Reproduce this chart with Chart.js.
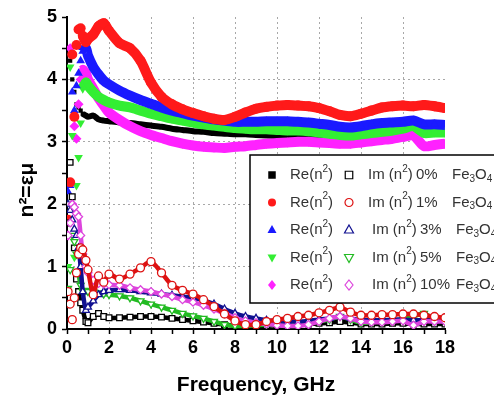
<!DOCTYPE html>
<html>
<head>
<meta charset="utf-8">
<script src="https://cdn.jsdelivr.net/npm/chart.js@4.4.1/dist/chart.umd.min.js"></script>
<style>
  html, body { margin: 0; padding: 0; background: #fff; }
</style>
</head>
<body>
<canvas id="myChart" width="494" height="399"></canvas>
<script>
// frequency, GHz (denser at the low end where the curves jump)
const freq = [0.05, 0.15, 0.25, 0.35, 0.45, 0.55, 0.65, 0.75, 0.9, 1.0, 1.25, 1.5, 1.75, 2.0,
  2.5, 3, 3.5, 4, 4.5, 5, 5.5, 6, 6.5, 7, 7.5, 8, 8.5, 9, 9.5, 10,
  10.5, 11, 11.5, 12, 12.5, 13, 13.5, 14, 14.5, 15, 15.5, 16, 16.5, 17, 17.5, 18];

const percents = ["0%", "1%", "3%", "5%", "10%"];

// Re(n^2)
const re0 = [1.7, 4.3, 4.0, 3.8, 3.6, 3.55, 3.5, 3.45, 3.42, 3.4, 3.42, 3.36, 3.34, 3.33,
  3.31, 3.30, 3.28, 3.26, 3.24, 3.21, 3.19, 3.17, 3.16, 3.14, 3.13, 3.12, 3.12, 3.11, 3.10, 3.09,
  3.08, 3.08, 3.07, 3.07, 3.06, 3.06, 3.06, 3.07, 3.09, 3.11, 3.12, 3.14, 3.18, 3.12, 3.14, 3.15];
const re1 = [1.75, 2.35, 4.4, 3.4, 4.55, 4.8, 4.82, 4.7, 4.6, 4.65, 4.72, 4.85, 4.9, 4.78,
  4.58, 4.5, 4.3, 3.95, 3.72, 3.6, 3.52, 3.46, 3.41, 3.37, 3.35, 3.4, 3.47, 3.53, 3.56, 3.58,
  3.59, 3.58, 3.57, 3.54, 3.49, 3.43, 3.41, 3.45, 3.5, 3.55, 3.57, 3.58, 3.57, 3.59, 3.57, 3.54];
const re3 = [2.2, 2.3, 3.8, 3.5, 3.9, 4.1, 4.3, 4.45, 4.5, 4.38, 4.2, 4.08, 3.98, 3.92,
  3.82, 3.74, 3.67, 3.61, 3.55, 3.5, 3.46, 3.42, 3.39, 3.36, 3.34, 3.32, 3.32, 3.32, 3.33, 3.33,
  3.33, 3.32, 3.31, 3.29, 3.27, 3.24, 3.23, 3.25, 3.28, 3.3, 3.31, 3.32, 3.34, 3.28, 3.28, 3.27];
const re5 = [1.0, 4.2, 3.1, 1.15, 2.3, 2.75, 3.3, 3.85, 3.95, 3.9, 3.8, 3.72, 3.67, 3.63,
  3.58, 3.55, 3.5, 3.45, 3.41, 3.37, 3.34, 3.31, 3.28, 3.26, 3.24, 3.22, 3.21, 3.2, 3.2, 3.19,
  3.18, 3.18, 3.17, 3.15, 3.13, 3.11, 3.1, 3.12, 3.14, 3.16, 3.18, 3.21, 3.25, 3.14, 3.15, 3.15];
const re10 = [1.5, 4.5, 2.0, 3.25, 3.05, 3.6, 4.0, 4.15, 4.1, 4.0, 3.85, 3.7, 3.58, 3.47,
  3.35, 3.25, 3.17, 3.11, 3.06, 3.01, 2.97, 2.94, 2.92, 2.91, 2.9, 2.92, 2.93, 2.95, 2.97, 2.98,
  2.99, 3.0, 3.0, 2.99, 2.98, 2.97, 2.97, 2.99, 3.01, 3.03, 3.05, 3.08, 3.1, 2.93, 2.95, 2.97];

// Im(n^2)
const im0 = [1.7, 2.67, 2.12, 1.3, 0.8, 0.6, 0.42, 0.3, 0.12, 0.1, 0.2, 0.25, 0.2, 0.18,
  0.18, 0.19, 0.2, 0.2, 0.19, 0.17, 0.15, 0.13, 0.11, 0.09, 0.07, 0.05, 0.05, 0.05, 0.05, 0.06,
  0.06, 0.07, 0.08, 0.09, 0.1, 0.12, 0.1, 0.08, 0.08, 0.08, 0.09, 0.09, 0.08, 0.08, 0.08, 0.08];
const im1 = [0.6, 0.4, 0.15, 0.5, 0.9, 1.2, 1.3, 1.27, 1.1, 0.95, 0.55, 0.85, 0.75, 0.88,
  0.8, 0.88, 0.98, 1.08, 0.9, 0.7, 0.62, 0.56, 0.47, 0.36, 0.24, 0.13, 0.07, 0.07, 0.12, 0.15,
  0.17, 0.2, 0.22, 0.26, 0.3, 0.35, 0.27, 0.22, 0.22, 0.23, 0.23, 0.24, 0.24, 0.22, 0.2, 0.18];
const im3 = [2.0, 1.9, 1.75, 1.6, 1.5, 1.3, 1.0, 0.6, 0.3, 0.35, 0.45, 0.55, 0.6, 0.62,
  0.63, 0.62, 0.6, 0.58, 0.56, 0.54, 0.52, 0.5, 0.46, 0.4, 0.32, 0.25, 0.2, 0.17, 0.14, 0.12,
  0.12, 0.12, 0.13, 0.15, 0.17, 0.2, 0.17, 0.14, 0.14, 0.14, 0.15, 0.15, 0.14, 0.14, 0.14, 0.14];
const im5 = [0.65, 0.95, 1.5, 1.4, 1.2, 0.9, 0.7, 0.6, 0.62, 0.6, 0.6, 0.58, 0.56, 0.55,
  0.53, 0.5, 0.45, 0.4, 0.35, 0.3, 0.25, 0.21, 0.17, 0.12, 0.07, 0.05, 0.05, 0.06, 0.07, 0.08,
  0.09, 0.1, 0.11, 0.12, 0.15, 0.2, 0.15, 0.1, 0.11, 0.12, 0.13, 0.15, 0.2, 0.25, 0.15, 0.12];
const im10 = [1.5, 1.7, 2.0, 1.95, 1.85, 1.8, 1.5, 1.2, 1.0, 0.9, 0.78, 0.73, 0.72, 0.71,
  0.7, 0.66, 0.63, 0.6, 0.56, 0.52, 0.47, 0.43, 0.38, 0.32, 0.25, 0.18, 0.13, 0.1, 0.08, 0.06,
  0.05, 0.05, 0.07, 0.12, 0.17, 0.2, 0.17, 0.12, 0.11, 0.11, 0.12, 0.13, 0.06, 0.12, 0.12, 0.12];

const reSeries = [re0, re1, re3, re5, re10];
const imSeries = [im0, im1, im3, im5, im10];

const reColors = ["#000000", "#ff1a1a", "#1a1aff", "#33ee33", "#ff22ff"];
const imColors = ["#000000", "#dd1111", "#101090", "#22bb22", "#dd44dd"];
const shapes = ["rect", "circle", "triangle", "triangle", "rectRot"];
const rotations = [0, 0, 0, 180, 0];
const reWidths = [6, 10, 10, 10, 10];
// draw order, smaller = on top
const reOrder = [10, 6, 7, 8, 9];
const imOrder = [5, 1, 3, 4, 2];

function toPoints(arr) {
  return freq.map((f, i) => ({ x: f, y: arr[i] }));
}

const datasets = [];
for (let i = 0; i < 5; i++) {
  datasets.push({
    label: "Re " + percents[i],
    data: toPoints(reSeries[i]),
    showLine: true,
    tension: 0.25,
    borderColor: reColors[i],
    borderWidth: reWidths[i],
    pointStyle: shapes[i],
    rotation: rotations[i],
    pointRadius: reWidths[i] / 2,
    pointBackgroundColor: reColors[i],
    pointBorderColor: reColors[i],
    pointBorderWidth: 0,
    order: reOrder[i],
    segment: {
      borderColor: (c) => (c.p0.parsed.x < 0.7 ? "rgba(0,0,0,0)" : undefined),
    },
  });
  datasets.push({
    label: "Im " + percents[i],
    data: toPoints(imSeries[i]),
    showLine: true,
    tension: 0.25,
    borderColor: imColors[i],
    borderWidth: 4.5,
    pointStyle: shapes[i],
    rotation: rotations[i],
    pointRadius: 4,
    pointBackgroundColor: "#ffffff",
    pointBorderColor: imColors[i],
    pointBorderWidth: 1.3,
    order: imOrder[i],
    segment: {
      borderColor: (c) => (c.p0.parsed.x < 0.5 ? "rgba(0,0,0,0)" : undefined),
    },
  });
}

function marker(ctx, shape, rot, x, y, r, fill, stroke) {
  ctx.save();
  ctx.translate(x, y);
  ctx.rotate((rot * Math.PI) / 180);
  ctx.beginPath();
  if (shape === "rect") {
    ctx.rect(-r * 0.75, -r * 0.75, r * 1.5, r * 1.5);
  } else if (shape === "circle") {
    ctx.arc(0, 0, r * 0.8, 0, Math.PI * 2);
  } else if (shape === "triangle") {
    ctx.moveTo(0, -r);
    ctx.lineTo(r * 0.9, r * 0.6);
    ctx.lineTo(-r * 0.9, r * 0.6);
    ctx.closePath();
  } else {
    ctx.moveTo(0, -r);
    ctx.lineTo(r * 0.8, 0);
    ctx.lineTo(0, r);
    ctx.lineTo(-r * 0.8, 0);
    ctx.closePath();
  }
  if (fill) {
    ctx.fillStyle = fill;
    ctx.fill();
  }
  if (stroke) {
    ctx.strokeStyle = stroke;
    ctx.lineWidth = 1.2;
    ctx.stroke();
  }
  ctx.restore();
}

function richText(ctx, parts, x, y) {
  parts.forEach(([t, kind]) => {
    ctx.font = kind ? '10px "Liberation Sans", Arial' : '15px "Liberation Sans", Arial';
    const dy = kind === "sup" ? -6 : kind === "sub" ? 4 : 0;
    ctx.fillText(t, x, y + dy);
    x += ctx.measureText(t).width;
  });
}

const legendBox = {
  id: "legendBox",
  afterDraw(chart) {
    const ctx = chart.ctx;
    ctx.save();
    ctx.fillStyle = "#fff";
    ctx.fillRect(250, 155, 260, 148);
    ctx.strokeStyle = "#000";
    ctx.lineWidth = 1.5;
    ctx.strokeRect(250, 155, 260, 148);
    ctx.textBaseline = "middle";
    for (let i = 0; i < 5; i++) {
      const y = 175 + i * 27.5;
      const shift = i < 2 ? 0 : 4;
      marker(ctx, shapes[i], rotations[i], 272, y, 5, reColors[i], null);
      ctx.fillStyle = "#333";
      richText(ctx, [["Re(n"], ["2", "sup"], [")"]], 290, y);
      marker(ctx, shapes[i], rotations[i], 349, y, 5, "#fff", imColors[i]);
      ctx.fillStyle = "#333";
      richText(ctx, [["Im (n"], ["2", "sup"], [")"]], 368 + shift, y);
      richText(ctx, [[percents[i]]], 416 + shift, y);
      richText(ctx, [["Fe"], ["3", "sub"], ["O"], ["4", "sub"]], 452 + shift, y);
    }
    ctx.restore();
  },
};

const yTitle = {
  id: "yTitle",
  afterDraw(chart) {
    const ctx = chart.ctx;
    ctx.save();
    ctx.translate(27, 190);
    ctx.rotate(-Math.PI / 2);
    ctx.fillStyle = "#000";
    ctx.font = 'bold 21px "Liberation Sans", Arial';
    ctx.textAlign = "center";
    ctx.textBaseline = "middle";
    ctx.fillText("n²=εμ", 0, 0);
    ctx.restore();
  },
};

const tickFont = { family: '"Liberation Sans", Arial', size: 18, weight: "bold" };

new Chart(document.getElementById("myChart"), {
  type: "scatter",
  data: { datasets: datasets },
  options: {
    responsive: false,
    animation: false,
    layout: { padding: { left: 0, top: 17, right: 49, bottom: 0 } },
    plugins: { legend: { display: false }, tooltip: { enabled: false } },
    scales: {
      x: {
        type: "linear",
        min: 0,
        max: 18,
        afterFit: (s) => { s.height = 70; },
        border: { color: "#000", width: 2, dash: [2, 3] },
        grid: {
          color: (c) => (c.tick && c.tick.value % 2 === 0 && c.tick.value > 0 && c.tick.value < 18 ? "#a8a8a8" : "rgba(0,0,0,0)"),
          tickColor: "#000",
          tickLength: 5,
          tickWidth: 1.5,
        },
        ticks: {
          stepSize: 1,
          autoSkip: false,
          maxRotation: 0,
          padding: 3,
          color: "#000",
          font: tickFont,
          callback: (v) => (v % 2 === 0 ? v : ""),
        },
        title: {
          display: true,
          text: "Frequency, GHz",
          color: "#000",
          font: { family: '"Liberation Sans", Arial', size: 21, weight: "bold" },
          padding: { top: 0, bottom: 1 },
        },
      },
      y: {
        type: "linear",
        min: 0,
        max: 5,
        afterFit: (s) => { s.width = 67; },
        border: { color: "#000", width: 2, dash: [2, 3] },
        grid: {
          color: (c) => (c.tick && Number.isInteger(c.tick.value) && c.tick.value > 0 && c.tick.value < 5 ? "#a8a8a8" : "rgba(0,0,0,0)"),
          tickColor: "#000",
          tickLength: 5,
          tickWidth: 1.5,
        },
        ticks: {
          stepSize: 0.5,
          autoSkip: false,
          padding: 5,
          color: "#000",
          font: tickFont,
          callback: (v) => (Number.isInteger(v) ? v : ""),
        },
      },
    },
  },
  plugins: [legendBox, yTitle],
});
</script>
</body>
</html>
